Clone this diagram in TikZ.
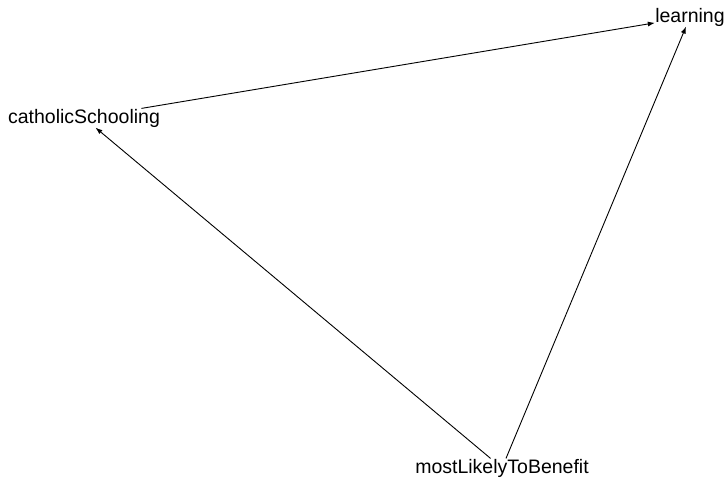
\documentclass[tikz,border=0pt]{standalone}
\usepackage{fontspec}
\setmainfont{Liberation Sans}
\usetikzlibrary{arrows.meta}
\usetikzlibrary{math}

\begin{document}
\begin{tikzpicture}[x=1pt,y=-1pt]
\tikzmath{
\W=727;
\H=484;
}
\useasboundingbox (0,0) rectangle (\W,\H);
\tikzset{var/.style={inner sep=0pt, outer sep=0.5pt, font=\fontsize{19.5}{23}\selectfont}}
%variables
\node[var] (learning) at (690,17) {learning};
\node[var] (catholic) at (84,118) {catholicSchooling};
\node[var] (benefit) at (502,468) {mostLikelyToBenefit};

%edges
\draw[-{Latex[length=7pt,width=5pt]}, line width=0.9pt] (catholic) -- (learning);
\draw[-{Latex[length=7pt,width=5pt]}, line width=0.9pt] (benefit) -- (catholic);
\draw[-{Latex[length=7pt,width=5pt]}, line width=0.9pt] (benefit) -- (learning);
\end{tikzpicture}
\end{document}
